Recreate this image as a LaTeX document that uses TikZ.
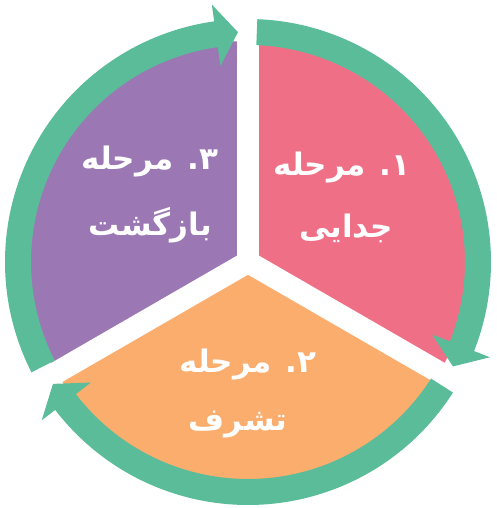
\documentclass[tikz,border=0pt]{standalone}
\usepackage{fontspec}
\TeXXeTstate=1
\newfontfamily\arabicfont[Script=Arabic]{DejaVu Sans}
\definecolor{pinkc}{HTML}{EF6F86}
\definecolor{purplec}{HTML}{9B78B3}
\definecolor{orangec}{HTML}{FBAD6E}
\definecolor{ringc}{HTML}{5BBC9A}
\newcommand\ringarrow[3]{%
  \fill[ringc] (#1:243pt) arc[start angle=#1, end angle=#2, radius=243pt]
    -- (#2:260pt) -- (#3:230pt) -- (#2:198pt) -- (#2:217pt)
    arc[start angle=#2, end angle=#1, radius=217pt] -- cycle;}
\tikzset{
  lbl/.style={text=white, font=\arabicfont\bfseries\fontsize{31pt}{35pt}\selectfont, inner sep=0pt},
  gap/.style={white, line width=22pt}
}
\begin{document}
\begin{tikzpicture}
\useasboundingbox (0,0) rectangle (496pt,508pt);
\begin{scope}[shift={(248pt,246pt)}]
  \fill[pinkc] (0,0) -- (90:221pt) arc[start angle=90, end angle=-30, radius=221pt] -- cycle;
  \fill[orangec] (0,0) -- (-30:221pt) arc[start angle=-30, end angle=-150, radius=221pt] -- cycle;
  \fill[purplec] (0,0) -- (210:221pt) arc[start angle=210, end angle=90, radius=221pt] -- cycle;
  \draw[gap] (90:-4pt) -- (90:250pt);
  \draw[gap] (-30:-4pt) -- (-30:250pt);
  \draw[gap] (210:-4pt) -- (210:250pt);
  \ringarrow{87.8}{-21.5}{-27}
  \ringarrow{-32.5}{-142.5}{-148}
  \ringarrow{207}{98}{92.5}
\end{scope}
\node[lbl] (p1) at (342pt,340pt) {\beginR ۱. مرحله\endR};
\node[lbl] (p2) at (346pt,280pt) {\beginR جدایی\endR};
\node[lbl] (u1) at (150pt,346pt) {\beginR ۳. مرحله\endR};
\node[lbl] (u2) at (150pt,283pt) {\beginR بازگشت\endR};
\node[lbl] (o1) at (248pt,143pt) {\beginR ۲. مرحله\endR};
\node[lbl] (o2) at (238pt,83pt) {\beginR تشرف\endR};
\end{tikzpicture}
\end{document}
